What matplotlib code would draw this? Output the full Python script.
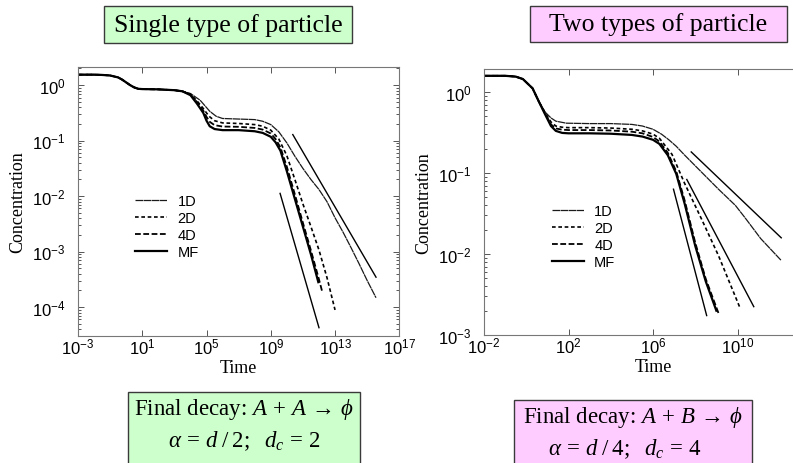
import numpy as np
import matplotlib
matplotlib.use("Agg")
import matplotlib.pyplot as plt
from matplotlib.patches import Rectangle
from matplotlib.ticker import FixedLocator, FuncFormatter, LogLocator, NullFormatter

plt.rcParams["font.family"] = ["Liberation Serif", "DejaVu Serif"]
plt.rcParams["mathtext.fontset"] = "custom"
plt.rcParams["mathtext.rm"] = "Liberation Serif"
plt.rcParams["mathtext.it"] = "Liberation Serif:italic"
plt.rcParams["mathtext.bf"] = "Liberation Serif:bold"
plt.rcParams["mathtext.sf"] = "Liberation Sans"
plt.rcParams["mathtext.fallback"] = "stix"

# ---------------- data (log10 time, log10 concentration) ----------------
# single species, A + A -> 0
single_head_lt = [-3, -2, -1.5, -1, -0.5, -0.25, 0, 0.25, 0.5, 0.75, 1, 2, 3, 3.5]
single_head_lc = [0.19, 0.19, 0.185, 0.175, 0.14, 0.10, 0.05, 0.0, -0.04, -0.065,
                  -0.07, -0.075, -0.09, -0.11]

single_1d_lt = [4.0, 4.6, 5.2, 5.6, 6.0, 7, 8, 8.5, 9, 9.5, 10, 10.5, 11, 11.5, 12,
                12.5, 13, 13.5, 14, 14.5, 15, 15.55]
single_1d_lc = [-0.15, -0.27, -0.47, -0.56, -0.60, -0.61, -0.62, -0.65, -0.71, -0.84,
                -1.04, -1.28, -1.50, -1.70, -1.88, -2.10, -2.39, -2.65, -2.93, -3.22,
                -3.52, -3.83]
single_2d_lt = [4.0, 4.4, 4.8, 5.0, 5.2, 5.5, 6, 7, 8, 8.5, 9, 9.5, 10, 10.5, 11,
                11.5, 12, 12.5, 13.0]
single_2d_lc = [-0.16, -0.28, -0.42, -0.50, -0.57, -0.64, -0.68, -0.69, -0.71, -0.74,
                -0.81, -0.97, -1.27, -1.70, -2.14, -2.55, -2.97, -3.47, -4.05]
single_4d_lt = [4.0, 4.4, 4.8, 5.0, 5.2, 5.5, 6, 7, 8, 8.5, 9, 9.3, 9.6, 10, 10.5,
                11, 11.5, 12.0, 12.2]
single_4d_lc = [-0.17, -0.30, -0.46, -0.57, -0.66, -0.72, -0.745, -0.75, -0.77, -0.80,
                -0.87, -0.97, -1.12, -1.47, -1.97, -2.48, -2.98, -3.50, -3.72]
single_mf_lt = [4.0, 4.4, 4.8, 5.0, 5.2, 5.5, 6, 7, 8, 8.5, 9, 9.3, 9.6, 10.0, 10.5,
                11.0, 11.5, 11.96]
single_mf_lc = [-0.18, -0.33, -0.50, -0.64, -0.74, -0.79, -0.81, -0.81, -0.83, -0.86,
                -0.93, -1.03, -1.18, -1.55, -2.05, -2.55, -3.05, -3.55]
# asymptotic power laws t^(-1/2) and t^(-1)
single_ref_lt = [[10.37, 15.55], [9.58, 12.0]]
single_ref_lc = [[-0.89, -3.46], [-1.95, -4.37]]

# two species, A + B -> 0
two_head_lt = [-2, -1, -0.5, -0.16, 0.3, 0.6]
two_head_lc = [0.20, 0.20, 0.19, 0.16, 0.045, -0.12]

two_1d_lt = [0.9, 1.17, 1.4, 1.9, 3, 4, 5, 5.5, 6, 6.4, 6.75, 7.1, 7.5, 8.3, 9.1,
             9.9, 10.35, 11.1, 12.07]
two_1d_lc = [-0.25, -0.32, -0.36, -0.385, -0.39, -0.39, -0.40, -0.42, -0.46, -0.52,
             -0.59, -0.67, -0.78, -0.99, -1.20, -1.40, -1.55, -1.81, -2.08]
two_2d_lt = [0.9, 1.17, 1.4, 1.7, 2, 3, 4, 5, 5.5, 6, 6.3, 6.9, 7.5, 8.3, 9.1, 10.11]
two_2d_lc = [-0.26, -0.37, -0.42, -0.435, -0.44, -0.44, -0.445, -0.46, -0.48, -0.52,
             -0.57, -0.77, -1.13, -1.57, -2.02, -2.66]
two_4d_lt = [0.9, 1.17, 1.4, 1.7, 2, 3, 4, 5, 5.5, 6, 6.3, 6.7, 7.1, 7.5, 8.0, 8.5, 9.1]
two_4d_lc = [-0.27, -0.40, -0.45, -0.465, -0.47, -0.47, -0.475, -0.49, -0.51, -0.555,
             -0.61, -0.75, -0.98, -1.34, -1.86, -2.31, -2.73]
two_mf_lt = [0.9, 1.17, 1.4, 1.7, 2, 3, 4, 5, 5.5, 6, 6.3, 6.7, 7.1, 7.5, 8.0, 8.5, 9.0]
two_mf_lc = [-0.28, -0.42, -0.48, -0.505, -0.51, -0.51, -0.515, -0.53, -0.55, -0.59,
             -0.64, -0.78, -1.01, -1.38, -1.90, -2.34, -2.70]
# asymptotic power laws t^(-1/4), t^(-1/2), t^(-1)
two_ref_lt = [[7.81, 12.07], [7.6, 10.77], [6.97, 8.54]]
two_ref_lc = [[-0.74, -1.80], [-1.08, -2.65], [-1.20, -2.76]]

labels = ["1D", "2D", "4D", "MF"]

# ---------------- styling ----------------
styles = {
    "1D": dict(color="#1a1a1a", lw=0.9, ls=(0, (6.0, 0.4))),
    "2D": dict(color="black", lw=1.2, ls=(0, (2.2, 1.6))),
    "4D": dict(color="black", lw=1.3, ls=(0, (3.2, 1.4))),
    "MF": dict(color="black", lw=1.6, ls="-"),
}

W, H = 793, 464
fig = plt.figure(figsize=(W / 100, H / 100), dpi=100)
fig.patch.set_facecolor("white")


def fx(px):
    return px / W


def fy(py):
    return 1 - py / H


def sci(v, pos):
    return r"$\mathsf{10^{%d}}$" % int(round(np.log10(v)))


def setup(ax, xlim, ylim, xticks, yticks):
    ax.set_xscale("log")
    ax.set_yscale("log")
    ax.set_xlim(*xlim)
    ax.set_ylim(*ylim)
    ax.xaxis.set_major_locator(FixedLocator(xticks))
    ax.yaxis.set_major_locator(FixedLocator(yticks))
    ax.xaxis.set_minor_locator(FixedLocator([]))
    ax.yaxis.set_minor_locator(LogLocator(base=10, subs=np.arange(2, 10)))
    ax.xaxis.set_major_formatter(FuncFormatter(sci))
    ax.yaxis.set_major_formatter(FuncFormatter(sci))
    ax.yaxis.set_minor_formatter(NullFormatter())
    ax.tick_params(which="both", direction="in", top=True, right=True,
                   color="#555555", width=0.7)
    ax.tick_params(which="major", length=4, labelsize=12)
    ax.tick_params(which="minor", length=2)
    ax.tick_params(axis="x", pad=1)
    ax.tick_params(axis="y", pad=9)
    for s in ax.spines.values():
        s.set_color("#777777")
        s.set_linewidth(0.8)
    ax.set_xlabel("Time", fontsize=13, labelpad=1)
    ax.set_ylabel("Concentration", fontsize=13)


def draw(ax, head_lt, head_lc, curves, refs, anchor):
    for lab, (lt, lc) in zip(labels, curves):
        x = 10.0 ** np.array(head_lt + lt)
        y = 10.0 ** np.array(head_lc + lc)
        ax.plot(x, y, label=lab, **styles[lab])
    for lt, lc in zip(*refs):
        ax.plot(10.0 ** np.array(lt), 10.0 ** np.array(lc), color="black", lw=1.0)
    ax.legend(loc="upper left", bbox_to_anchor=anchor, frameon=False,
              borderpad=0, borderaxespad=0, handlelength=2.2, handletextpad=0.7,
              labelspacing=0.2, prop=dict(family="Liberation Sans", size=10.5))


# left panel
axL = fig.add_axes([fx(78), fy(337), fx(399.3) - fx(78), (337 - 68) / H])
setup(axL, (1e-3, 1e17), (10 ** -4.52, 10 ** 0.328),
      [1e-3, 1e1, 1e5, 1e9, 1e13, 1e17], [1e0, 1e-1, 1e-2, 1e-3, 1e-4])
draw(axL, single_head_lt, single_head_lc,
     [(single_1d_lt, single_1d_lc), (single_2d_lt, single_2d_lc),
      (single_4d_lt, single_4d_lc), (single_mf_lt, single_mf_lc)],
     (single_ref_lt, single_ref_lc), (0.178, 0.528))

# right panel (runs past the right edge of the canvas)
axR = fig.add_axes([fx(484), fy(336), (822 - 484) / W, (336 - 70) / H])
setup(axR, (1e-2, 1e14), (1e-3, 10 ** 0.284),
      [1e-2, 1e2, 1e6, 1e10], [1e0, 1e-1, 1e-2, 1e-3])
draw(axR, two_head_lt, two_head_lc,
     [(two_1d_lt, two_1d_lc), (two_2d_lt, two_2d_lc),
      (two_4d_lt, two_4d_lc), (two_mf_lt, two_mf_lc)],
     (two_ref_lt, two_ref_lc), (0.201, 0.492))


# ---------------- caption boxes ----------------
def box(x0, y0, x1, y1, color):
    fig.patches.append(Rectangle((fx(x0), fy(y1)), fx(x1) - fx(x0), (y1 - y0) / H,
                                 transform=fig.transFigure, facecolor=color,
                                 edgecolor="#3a3a3a", lw=1.0, zorder=0))


green, pink = "#ccffcc", "#ffccff"
box(104, 7, 352, 44, green)
box(530, 7, 787, 43, pink)
box(128, 393, 360, 475, green)
box(514, 401, 752, 475, pink)

fig.text(fx(228), fy(25.5), "Single type of particle", ha="center", va="center",
         fontsize=18.5)
fig.text(fx(658.5), fy(25), "Two types of particle", ha="center", va="center",
         fontsize=18.5)
fig.text(fx(244), fy(410), r"Final decay: $A\,+\,A\,\rightarrow\,\phi$", ha="center",
         va="center", fontsize=16.5)
fig.text(fx(244), fy(441), r"$\alpha\,=\,d\;/\;2;\ \ d_{c}\,=\,2$", ha="center",
         va="center", fontsize=16.5)
fig.text(fx(633), fy(418), r"Final decay: $A\,+\,B\,\rightarrow\,\phi$", ha="center",
         va="center", fontsize=16.5)
fig.text(fx(625), fy(449), r"$\alpha\,=\,d\;/\;4;\ \ d_{c}\,=\,4$", ha="center",
         va="center", fontsize=16.5)

fig.savefig("out.png", dpi=100, facecolor="white")
